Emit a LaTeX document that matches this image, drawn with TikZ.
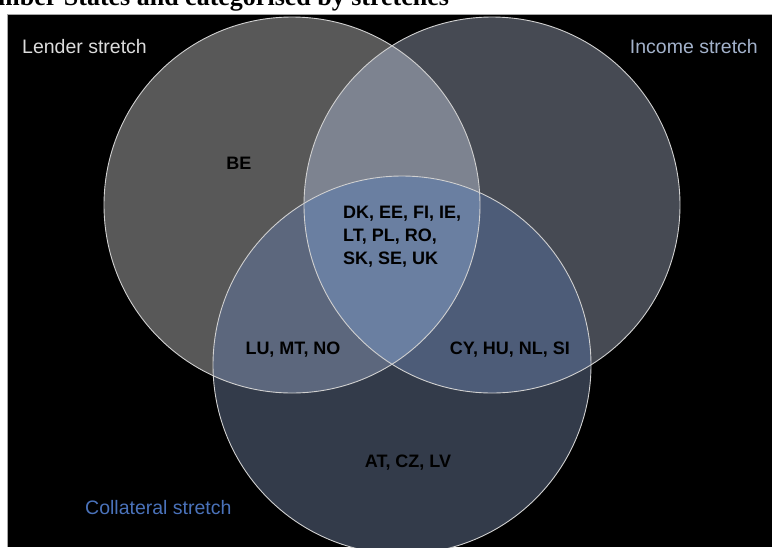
\documentclass[tikz,border=0pt]{standalone}
\usepackage{fontspec}
\setmainfont{Liberation Serif}
\newfontfamily\lsans{Liberation Sans}
\definecolor{cL}{HTML}{585858}
\definecolor{cI}{HTML}{464A53}
\definecolor{cC}{HTML}{333B4A}
\definecolor{cLI}{HTML}{7D8390}
\definecolor{cLC}{HTML}{5C677D}
\definecolor{cIC}{HTML}{4D5C78}
\definecolor{cLIC}{HTML}{6A7FA1}
\definecolor{edgecol}{HTML}{D0D0D0}
\definecolor{lendertxt}{HTML}{DCDCDC}
\definecolor{incometxt}{HTML}{A3B2CB}
\definecolor{colltxt}{HTML}{4A72BA}
\tikzset{
  setlabel/.style={inner sep=0pt, font=\lsans\fontsize{19.5}{22}\selectfont},
  country/.style={inner sep=0pt, text=black, font=\lsans\bfseries\fontsize{18}{23}\selectfont},
  ring/.style={draw=edgecol, line width=0.9pt}
}
\begin{document}
\begin{tikzpicture}[x=1pt,y=-1pt]
\useasboundingbox (0,0) rectangle (772,547);
\clip (0,0) rectangle (772,547);
\fill[white] (0,0) rectangle (772,547);
% title (cut off at the top)
\node[anchor=base west, inner sep=0pt, font=\bfseries\fontsize{26}{30}\selectfont] (title) at (-2,5) {mber States and categorised by stretches};
% black panel
\fill[black] (7,14) rectangle (772,547);
\draw[gray!70, line width=0.6pt] (7,547) -- (7,14.3) -- (772,14.3);
% centres
\coordinate (L) at (292,205);
\coordinate (I) at (492,205);
\coordinate (C) at (402,365);
% single regions
\fill[cL] (L) circle [radius=188pt];
\fill[cI] (I) circle [radius=188pt];
\fill[cC] (C) circle [radius=189pt];
% pairwise overlaps
\begin{scope}
  \clip (L) circle [radius=188pt];
  \fill[cLI] (I) circle [radius=188pt];
  \fill[cLC] (C) circle [radius=189pt];
\end{scope}
\begin{scope}
  \clip (I) circle [radius=188pt];
  \fill[cIC] (C) circle [radius=189pt];
\end{scope}
\begin{scope}
  \clip (L) circle [radius=188pt];
  \clip (I) circle [radius=188pt];
  \fill[cLIC] (C) circle [radius=189pt];
\end{scope}
% outlines
\draw[ring] (L) circle [radius=188pt];
\draw[ring] (I) circle [radius=188pt];
\draw[ring] (C) circle [radius=189pt];
% set labels
\node[setlabel, text=lendertxt, anchor=west] (lender) at (22,47) {Lender stretch};
\node[setlabel, text=incometxt, anchor=east] (income) at (758,47) {Income stretch};
\node[setlabel, text=colltxt, anchor=west] (collateral) at (85,508) {Collateral stretch};
% country groups
\node[country] (be) at (239,163) {BE};
\node[country, align=left, anchor=north west] (all) at (343,206) {DK, EE, FI, IE,\\LT, PL, RO,\\SK, SE, UK};
\node[country] (lc) at (293,350) {LU, MT, NO};
\node[country] (ic) at (510,350) {CY, HU, NL, SI};
\node[country] (conly) at (408,463) {AT, CZ, LV};
\end{tikzpicture}
\end{document}
